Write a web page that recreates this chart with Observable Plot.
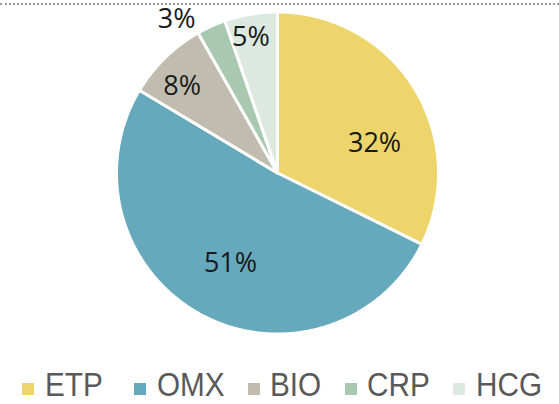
<!DOCTYPE html>
<html>
<head>
<meta charset="utf-8">
<script src="https://cdn.jsdelivr.net/npm/d3@7"></script>
<script src="https://cdn.jsdelivr.net/npm/@observablehq/plot@0.6"></script>
<style>
  html, body { margin: 0; padding: 0; background: #fff; }
  #wrap { position: relative; width: 559px; height: 404px; }
  #topline { position: absolute; left: 0; top: 3px; width: 559px; height: 0; border-top: 2px dotted #9a9a9a; }
  #chart { position: absolute; left: 0; top: 0; }
  #legend { position: absolute; left: 0; top: 0; width: 559px; height: 404px; pointer-events: none; }
  .sw { position: absolute; top: 383px; width: 12px; height: 12px; }
  .tx { position: absolute; top: 371.4px; height: 28px; font-family: "Liberation Sans", Arial, sans-serif; font-size: 33px; line-height: 28px;
        color: #595959; white-space: nowrap; transform: scaleX(0.9); transform-origin: 0 0; }
</style>
</head>
<body>
<div id="wrap">
  <div id="chart"></div>
  <div id="topline"></div>
  <div id="legend"></div>
</div>
<script>
// ---- data ----
const categories = ["ETP", "OMX", "BIO", "CRP", "HCG"];
const shares = [32.3, 51.3, 8.2, 2.9, 5.3];
const labels = ["32%", "51%", "8%", "3%", "5%"];
const colors = ["#EDD56B", "#67A9BC", "#C0BDB0", "#A8C9AF", "#DDE9E0"];

// ---- geometry (derived from data) ----
const cx = 277, cy = 172.5, R = 161;
const pie = d3.pie().sort(null).value(d => d.v)(categories.map((c, i) => ({c, v: shares[i]})));
const wedgePts = [];
pie.forEach(p => {
  const n = Math.max(4, Math.ceil((p.endAngle - p.startAngle) / 0.01));
  wedgePts.push({k: p.data.c, x: 0, y: 0});
  for (let j = 0; j <= n; j++) {
    const a = p.startAngle + (p.endAngle - p.startAngle) * j / n;
    wedgePts.push({k: p.data.c, x: Math.sin(a), y: Math.cos(a)});
  }
  wedgePts.push({k: p.data.c, x: 0, y: 0});
});
// label placement: mid-angle with small best-fit nudges
const nudgeDeg = [15, -1, -3.5, -9, -1.5];
const radFrac = [0.63, 0.63, 0.80, 1.14, 0.86];
const labelPts = pie.map((p, i) => {
  const a = (p.startAngle + p.endAngle) / 2 + nudgeDeg[i] * Math.PI / 180;
  return {t: labels[i], x: radFrac[i] * Math.sin(a), y: radFrac[i] * Math.cos(a)};
});

const plot = Plot.plot({
  width: 559,
  height: 370,
  margin: 0,
  style: {background: "transparent", overflow: "visible"},
  x: {domain: [-1, 1], range: [cx - R, cx + R], axis: null},
  y: {domain: [-1, 1], range: [cy + R, cy - R], axis: null},
  color: {domain: categories, range: colors},
  marks: [
    Plot.line(wedgePts, {x: "x", y: "y", z: "k", fill: "k", stroke: "white", strokeWidth: 3, strokeLinejoin: "miter"}),
    Plot.text(labelPts, {x: "x", y: "y", text: "t", fontSize: 27, fontFamily: "'Open Sans', sans-serif", fill: "#1a1a1a", textAnchor: "middle"})
  ]
});
document.getElementById("chart").appendChild(plot);

// legend layout (item left edges, px)
const legendLeft = [22.3, 134.3, 248, 344.7, 453.3];
const legend = document.getElementById("legend");
categories.forEach((c, i) => {
  const sw = document.createElement("div");
  sw.className = "sw";
  sw.style.left = legendLeft[i] + "px";
  sw.style.background = colors[i];
  const tx = document.createElement("span");
  tx.className = "tx";
  tx.style.left = (legendLeft[i] + 22.4) + "px";
  tx.textContent = c;
  legend.appendChild(sw);
  legend.appendChild(tx);
});
</script>
</body>
</html>
